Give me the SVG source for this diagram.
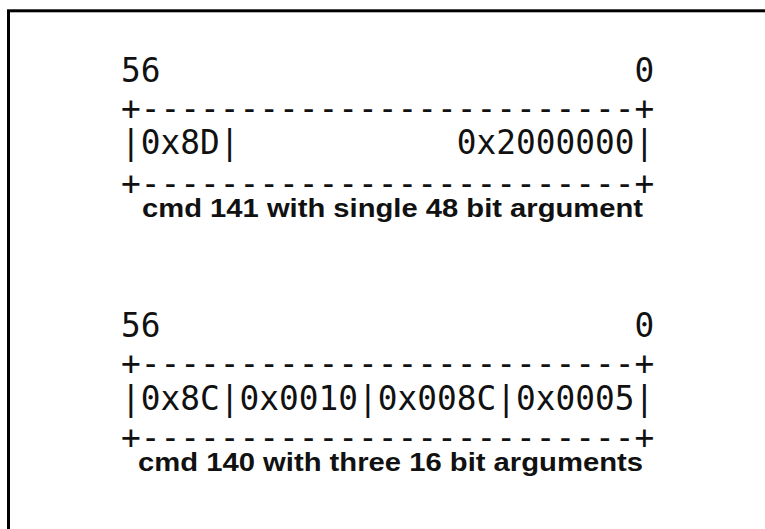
<svg xmlns="http://www.w3.org/2000/svg" width="765" height="529" viewBox="0 0 765 529">
<style>
.mono{font-family:"DejaVu Sans Mono","Liberation Mono",monospace;font-size:32.8px;fill:#111;white-space:pre}
.cap{font-family:"Liberation Sans",Arial,sans-serif;font-size:26.5px;font-weight:bold;fill:#111}
</style>
<rect x="8.5" y="10.8" width="800" height="600" fill="#fff" stroke="#000" stroke-width="3"/>
<g id="block1">
<text class="mono" xml:space="preserve" x="121.1" y="82">56                        0</text>
<text class="mono" xml:space="preserve" x="121.1" y="119.5">+-------------------------+</text>
<text class="mono" xml:space="preserve" x="121.1" y="154">|0x8D|           0x2000000|</text>
<text class="mono" xml:space="preserve" x="121.1" y="194.5">+-------------------------+</text>
<text class="cap" x="142" y="217" textLength="501" lengthAdjust="spacingAndGlyphs">cmd 141 with single 48 bit argument</text>
</g>
<g id="block2">
<text class="mono" xml:space="preserve" x="121.1" y="337">56                        0</text>
<text class="mono" xml:space="preserve" x="121.1" y="374.5">+-------------------------+</text>
<text class="mono" xml:space="preserve" x="121.1" y="410">|0x8C|0x0010|0x008C|0x0005|</text>
<text class="mono" xml:space="preserve" x="121.1" y="448.5">+-------------------------+</text>
<text class="cap" x="138" y="471" textLength="505" lengthAdjust="spacingAndGlyphs">cmd 140 with three 16 bit arguments</text>
</g>
<g id="connectors"/>
</svg>
